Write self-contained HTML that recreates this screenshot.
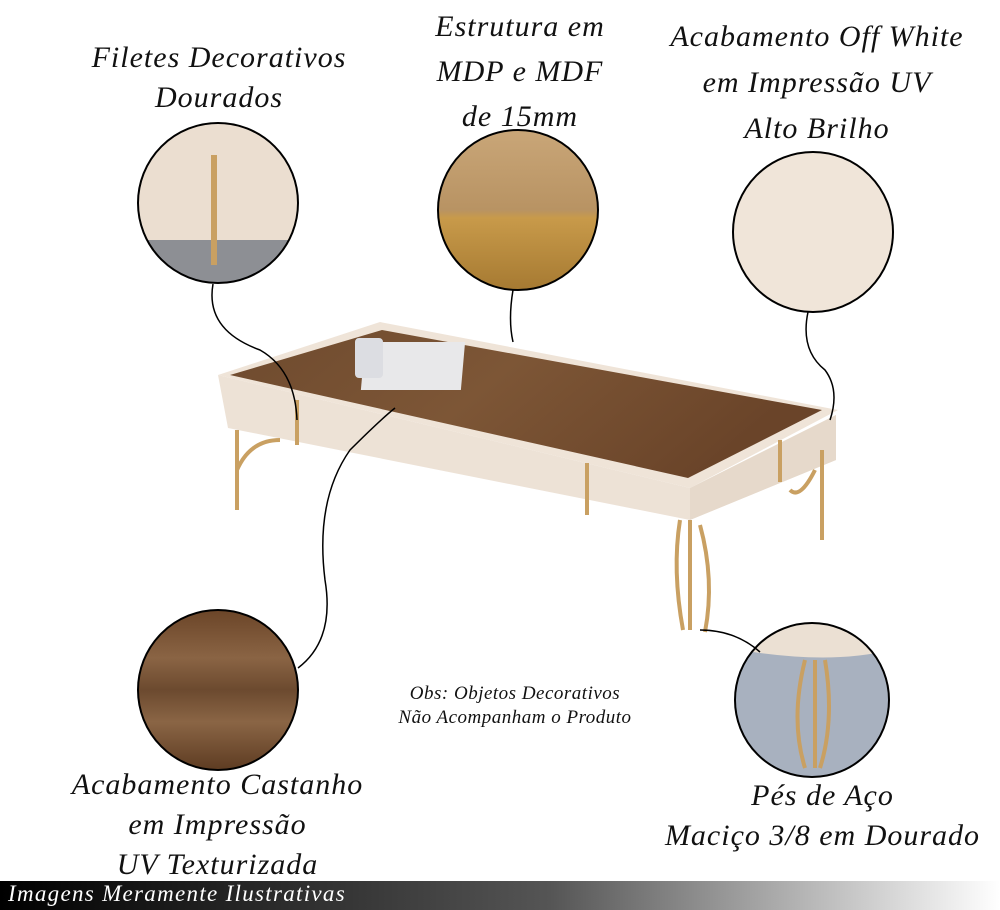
<!DOCTYPE html>
<html><head><meta charset="utf-8"><style>
html,body{margin:0;padding:0;background:#fff;}
body{width:1000px;height:910px;position:relative;overflow:hidden;font-family:"Liberation Serif",serif;font-style:italic;}
.t{position:absolute;text-align:center;font-size:30px;line-height:40px;color:#111;letter-spacing:1px;}
.s{position:absolute;text-align:center;font-size:19px;line-height:24px;color:#111;letter-spacing:0.5px;}
</style></head><body>
<svg width="1000" height="910" style="position:absolute;left:0;top:0">
<defs>
<linearGradient id="wood" x1="0" y1="0" x2="1" y2="0.3">
<stop offset="0" stop-color="#6e4a2e"/><stop offset="0.5" stop-color="#7d5636"/><stop offset="1" stop-color="#6a4429"/></linearGradient>
<linearGradient id="woodc" x1="0" y1="0" x2="0" y2="1">
<stop offset="0" stop-color="#6b4528"/><stop offset="0.3" stop-color="#8a6444"/><stop offset="0.5" stop-color="#6c4a2f"/><stop offset="0.7" stop-color="#8a6545"/><stop offset="1" stop-color="#5e3c22"/></linearGradient>
<linearGradient id="mdp" x1="0" y1="0" x2="0" y2="1">
<stop offset="0" stop-color="#c9a678"/><stop offset="0.5" stop-color="#b89363"/><stop offset="0.55" stop-color="#c89a4a"/><stop offset="1" stop-color="#a67a32"/></linearGradient>
<linearGradient id="band" x1="0" y1="0" x2="1" y2="0">
<stop offset="0" stop-color="#000"/><stop offset="0.55" stop-color="#555"/><stop offset="1" stop-color="#fff"/></linearGradient>
<clipPath id="c1"><circle cx="218" cy="203" r="80"/></clipPath>
<clipPath id="c5"><circle cx="812" cy="700" r="77"/></clipPath>
</defs>
<polygon points="218,375 228,428 690,520 836,460 836,415 690,488" fill="#ede2d6"/>
<polygon points="690,488 836,415 836,460 690,520" fill="#e6d9cb"/>
<polygon points="218,375 380,322 838,410 690,488" fill="#efe4d8"/>
<polygon points="230,375 382,330 822,410 688,478" fill="url(#wood)"/>
<g stroke="#c9a062" stroke-width="4" fill="none">
<line x1="297" y1="400" x2="297" y2="445"/><line x1="587" y1="463" x2="587" y2="515"/><line x1="780" y1="440" x2="780" y2="482"/>
<path d="M237 430 L237 510 M237 470 Q250 440 280 440"/>
<path d="M680 520 Q672 570 683 630 M690 520 L690 630 M700 525 Q715 580 705 632"/>
<path d="M822 450 L822 540 M815 470 Q800 500 790 490"/>
</g>
<rect x="395" y="342" width="100" height="48" fill="#e8e8ea" transform="skewX(-5)"/>
<rect x="355" y="338" width="28" height="40" fill="#dcdde2" rx="4"/>
<g clip-path="url(#c1)"><rect x="138" y="123" width="160" height="160" fill="#ebded0"/><rect x="138" y="240" width="160" height="50" fill="#8d8f94"/><rect x="211" y="155" width="6" height="110" fill="#c9a062"/></g>
<circle cx="218" cy="203" r="80" fill="none" stroke="#000" stroke-width="2"/>
<circle cx="518" cy="210" r="80" fill="url(#mdp)" stroke="#000" stroke-width="2"/>
<circle cx="813" cy="232" r="80" fill="#f0e5d9" stroke="#000" stroke-width="2"/>
<circle cx="218" cy="690" r="80" fill="url(#woodc)" stroke="#000" stroke-width="2"/>
<g clip-path="url(#c5)"><rect x="735" y="623" width="160" height="160" fill="#a8b1bf"/><path d="M740 623 L890 623 L890 650 Q830 665 740 650Z" fill="#ebe0d3"/><path d="M805 660 Q790 720 805 768 M815 660 L815 768 M825 660 Q835 720 820 768" stroke="#c9a062" stroke-width="4" fill="none"/></g>
<circle cx="812" cy="700" r="77" fill="none" stroke="#000" stroke-width="2"/>
<g stroke="#000" stroke-width="1.5" fill="none">
<path d="M213 284 Q205 330 260 350 Q295 370 297 420"/>
<path d="M513 290 Q508 320 513 342"/>
<path d="M808 312 Q800 350 825 370 Q840 390 830 420"/>
<path d="M298 668 Q335 640 325 580 Q315 500 350 450 Q380 420 395 408"/>
<path d="M700 630 Q735 630 760 652"/>
</g>
<rect x="0" y="881" width="1000" height="29" fill="url(#band)"/>
</svg>
<div class="t" style="left:14px;top:38px;width:410px">Filetes Decorativos<br>Dourados</div>
<div class="t" style="left:370px;top:4px;width:300px;line-height:45px">Estrutura em<br>MDP e MDF<br>de 15mm</div>
<div class="t" style="left:612px;top:14px;width:410px;line-height:46px">Acabamento Off White<br>em Impressão UV<br>Alto Brilho</div>
<div class="t" style="left:10px;top:765px;width:415px;line-height:40px">Acabamento Castanho<br>em Impressão<br>UV Texturizada</div>
<div class="t" style="left:610px;top:776px;width:425px;line-height:40px">Pés de Aço<br>Maciço 3/8 em Dourado</div>
<div class="s" style="left:355px;top:682px;width:320px">Obs: Objetos Decorativos<br>Não Acompanham o Produto</div>
<div style="position:absolute;left:8px;top:880px;font-size:23px;color:#fff;line-height:28px;letter-spacing:1.3px">Imagens Meramente Ilustrativas</div>
</body></html>
